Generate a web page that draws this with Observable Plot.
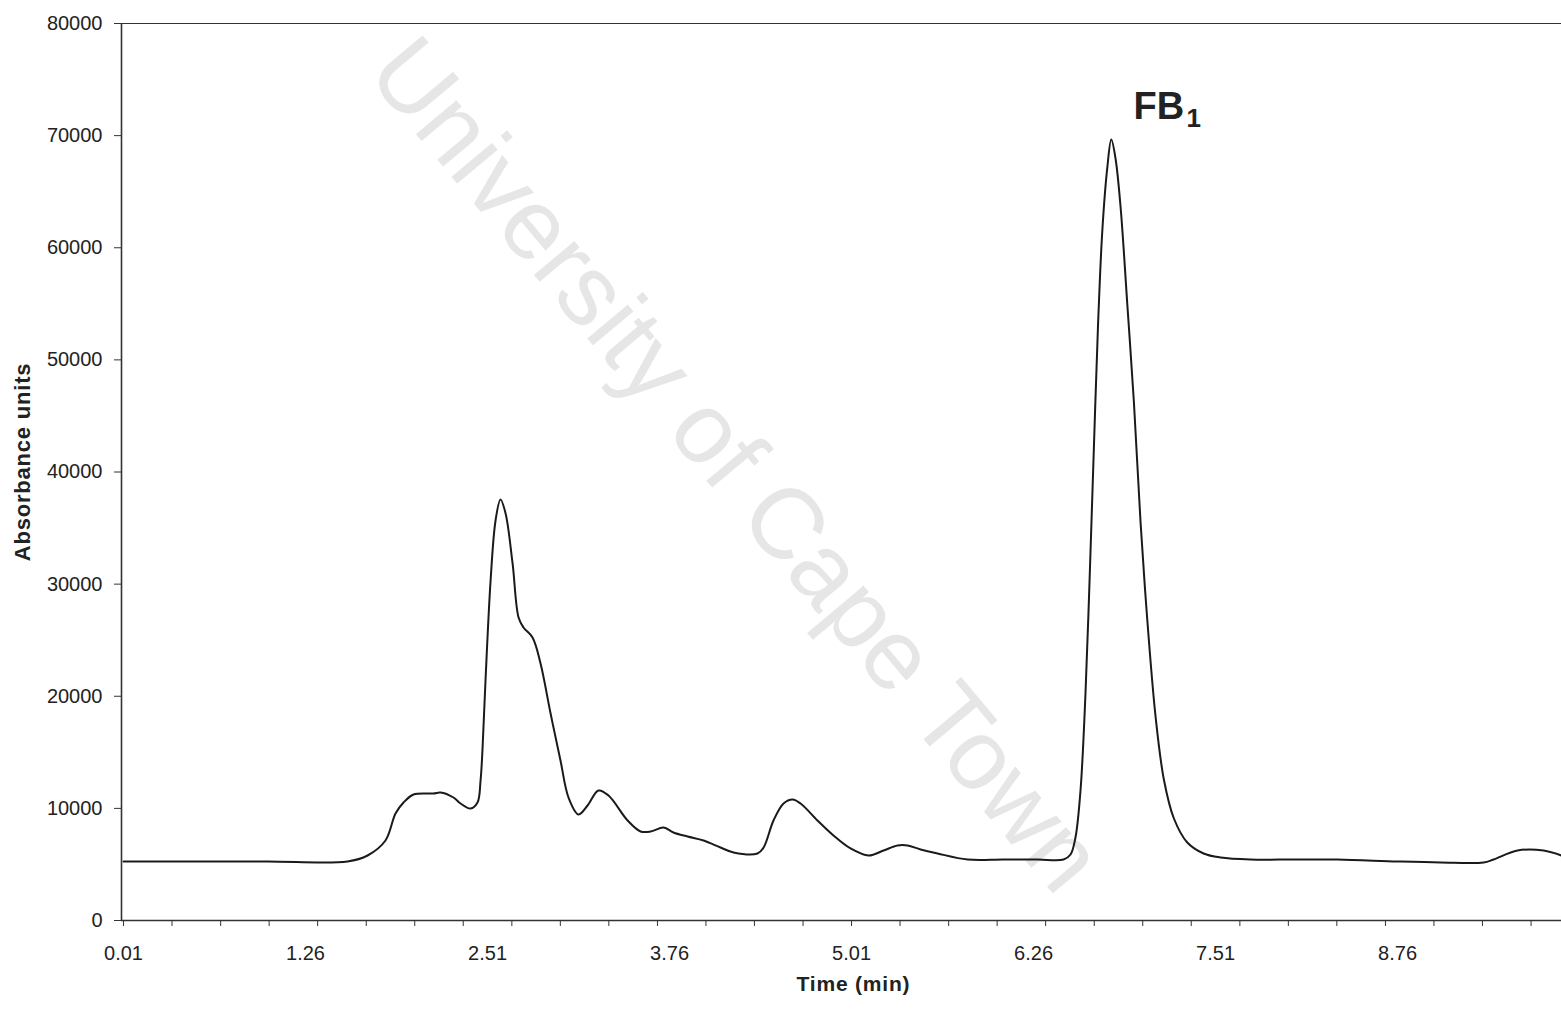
<!DOCTYPE html>
<html><head><meta charset="utf-8">
<script src="https://cdn.jsdelivr.net/npm/d3@7"></script>
<script src="https://cdn.jsdelivr.net/npm/@observablehq/plot@0.6"></script>
<style>
html,body{margin:0;padding:0;background:#fff;}
#chart svg{display:block;}
</style></head><body><div id="chart"></div>
<script>
// Retention time (min)
const time = [0.01, 0.5, 1.0, 1.548, 1.686, 1.809, 1.878, 1.933, 2.002, 2.139, 2.187, 2.276,
  2.325, 2.393, 2.441, 2.462, 2.476, 2.496, 2.531, 2.565, 2.599, 2.634,
  2.682, 2.723, 2.757, 2.819, 2.874, 2.943, 3.011, 3.066, 3.135, 3.197,
  3.272, 3.341, 3.472, 3.561, 3.630, 3.719, 3.787, 3.884, 3.994, 4.110,
  4.200, 4.364, 4.406, 4.474, 4.543, 4.605, 4.660, 4.776, 4.886, 5.003,
  5.127, 5.230, 5.326, 5.395, 5.484, 5.601, 5.807, 6.05, 6.287, 6.466, 6.514,
  6.548, 6.583, 6.617, 6.647, 6.674, 6.702, 6.732, 6.766, 6.794, 6.823,
  6.858, 6.904, 6.949, 6.995, 7.041, 7.098, 7.155, 7.224, 7.316, 7.428,
  7.544, 7.750, 8.05, 8.348, 8.760, 9.055, 9.351, 9.419, 9.584, 9.763, 9.886];
// Absorbance units
const absorbance = [5262, 5262, 5262, 5262, 5797, 7135, 9543, 10524, 11238, 11327, 11416, 10970,
  10435, 9989, 10524, 12487, 15430, 21406, 30325, 35676, 37549, 36300,
  31841, 27025, 26133, 25241, 22922, 18462, 14270, 10970, 9454, 10257,
  11595, 11149, 8919, 7938, 7938, 8295, 7849, 7492, 7135, 6511,
  6065, 5976, 6511, 8919, 10435, 10792, 10435, 8919, 7581, 6422,
  5797, 6243, 6689, 6689, 6332, 5976, 5441, 5441, 5441, 5441, 5887,
  7403, 11684, 20335, 31217, 42009, 52801, 61452, 67071, 69658, 67963,
  63593, 54941, 46290, 35498, 26846, 18194, 12576, 9097, 6957, 5976,
  5619, 5441, 5441, 5441, 5262, 5173, 5173, 5441, 6243, 6243, 5797];

const xTickLabels = ["0.01", "1.26", "2.51", "3.76", "5.01", "6.26", "7.51", "8.76"];
const xMinorTicks = [0.01, 0.343, 0.677, 1.01, 1.343, 1.677, 2.01, 2.343, 2.677, 3.01,
  3.343, 3.677, 4.01, 4.343, 4.677, 5.01, 5.343, 5.677, 6.01, 6.343,
  6.677, 7.01, 7.343, 7.677, 8.01, 8.343, 8.677, 9.01, 9.343, 9.677];
const yTicks = [0, 10000, 20000, 30000, 40000, 50000, 60000, 70000, 80000];
const xTitle = "Time (min)";
const yTitle = "Absorbance units";
const peakName = [{t: 6.947, v: 71500, text: "FB"}];
const peakSub = [{t: 7.311, v: 70725, text: "1"}];
const watermark = [{t: 4.213, v: 40580, text: "University of Cape Town"}];

const data = time.map((t, i) => ({t, v: absorbance[i]}));
const xMin = -0.004, xMax = 9.886;

const chart = Plot.plot({
  width: 1561, height: 1010,
  marginLeft: 121, marginRight: 0, marginTop: 23, marginBottom: 90,
  style: {fontFamily: "'Liberation Sans', Arial, sans-serif", fontSize: "20px", color: "#222", background: "#fff", overflow: "visible"},
  x: {domain: [xMin, xMax], label: null},
  y: {domain: [0, 80000], label: null},
  marks: [
    Plot.text(watermark, {x: "t", y: "v", text: "text", rotate: 50, fontSize: 100, fill: "#e6e6e6"}),
    Plot.ruleY([80000], {stroke: "#333", strokeWidth: 1.2}),
    Plot.ruleY([0], {stroke: "#333", strokeWidth: 1.6}),
    Plot.ruleX([xMin], {stroke: "#333", strokeWidth: 1.6}),
    Plot.axisY({ticks: yTicks, tickSize: 7, tickPadding: 12, tickFormat: d => String(d), label: null, stroke: "#333"}),
    Plot.axisX({ticks: xMinorTicks, tickSize: 6, tickFormat: () => "", label: null, stroke: "#333"}),
    Plot.axisX({ticks: xTickLabels.map(Number), tickSize: 0, tickPadding: 25, tickFormat: d => xTickLabels.find(s => +s === d), label: null}),
    Plot.line(data, {x: "t", y: "v", stroke: "#1a1a1a", strokeWidth: 2, curve: "catmull-rom"}),
    Plot.text([yTitle], {frameAnchor: "left", textAnchor: "middle", dx: -99, dy: -10, rotate: -90, fontWeight: "bold", fontSize: 22, fill: "#222"}),
    Plot.text([xTitle], {frameAnchor: "bottom", textAnchor: "middle", dx: 12, dy: 70, fontWeight: "bold", fontSize: 21, fill: "#222"}),
    Plot.text(peakName, {x: "t", y: "v", text: "text", textAnchor: "start", lineAnchor: "bottom", fontSize: 38, fontWeight: "bold", fill: "#222"}),
    Plot.text(peakSub, {x: "t", y: "v", text: "text", textAnchor: "start", lineAnchor: "bottom", fontSize: 26, fontWeight: "bold", fill: "#222"})
  ]
});
document.getElementById("chart").appendChild(chart);
d3.select(chart).selectAll("text").filter(function() { return this.textContent === yTitle || this.textContent === xTitle; })
  .style("letter-spacing", "0.8px");
</script></body></html>
